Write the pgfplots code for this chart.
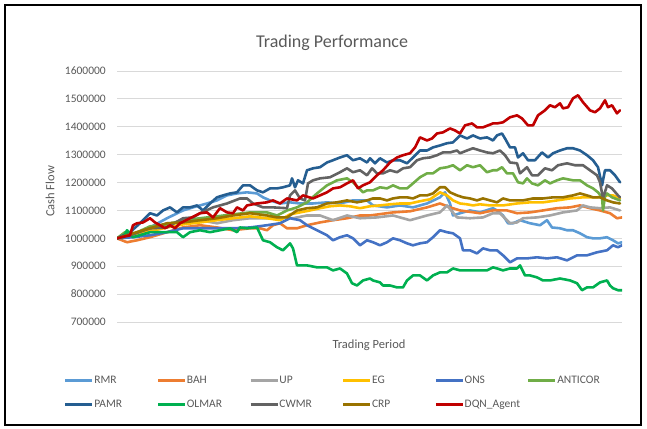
\documentclass[border=0pt]{standalone}
\usepackage{pgfplots}
\pgfplotsset{compat=1.18}
\usepackage{fontspec}
\setmainfont{Carlito}
\definecolor{txt}{HTML}{595959}
\definecolor{gridc}{HTML}{D9D9D9}
\definecolor{cRMR}{HTML}{5B9BD5}
\definecolor{cBAH}{HTML}{ED7D31}
\definecolor{cUP}{HTML}{A5A5A5}
\definecolor{cEG}{HTML}{FFC000}
\definecolor{cONS}{HTML}{4472C4}
\definecolor{cANTICOR}{HTML}{70AD47}
\definecolor{cPAMR}{HTML}{255E91}
\definecolor{cOLMAR}{HTML}{00B050}
\definecolor{cCWMR}{HTML}{636363}
\definecolor{cCRP}{HTML}{997300}
\definecolor{cDQN}{HTML}{C00000}
\newcommand{\lt}[1]{\makebox[62pt][l]{#1}}
\begin{document}
\begin{tikzpicture}[x=1pt,y=1pt]
\useasboundingbox (0,0) rectangle (647,428);
\draw[black, line width=1.3pt] (5,3) rectangle (641,423);
\begin{axis}[
  at={(117pt,106pt)}, anchor=south west,
  scale only axis, width=505pt, height=251pt,
  xmin=0, xmax=505, ymin=700000, ymax=1600000,
  xtick=\empty,
  ytick distance=100000,
  scaled y ticks=false,
  /pgf/number format/.cd, fixed, 1000 sep={}, assume math mode=true,
  /pgfplots/.cd,
  axis line style={draw=none},
  major tick length=0pt,
  ymajorgrids, grid style={draw=gridc, line width=0.8pt},
  yticklabel style={font=\fontsize{11.5}{13}\selectfont, text=txt, inner sep=0pt, xshift=-11pt},
  title={Trading Performance},
  title style={at={(axis description cs:0.426,1.09)}, anchor=center, font=\fontsize{18}{21}\selectfont, text=txt},
  xlabel={Trading Period},
  xlabel style={at={(axis description cs:0.499,-0.0916)}, anchor=center, font=\fontsize{12.5}{14}\selectfont, text=txt},
  ylabel={Cash Flow},
  ylabel style={at={(axis description cs:-0.1327,0.52)}, anchor=center, rotate=0, font=\fontsize{12.5}{14}\selectfont, text=txt},
  every axis plot/.append style={line width=2.6pt, line join=round, line cap=round},
  legend columns=6,
  legend image code/.code={\draw[#1, line width=2.6pt, line cap=butt] (0pt,0pt) -- (27pt,0pt);},
  legend style={at={(axis description cs:-0.105,-0.210)}, anchor=north west, draw=none, fill=none,
    inner sep=0pt, column sep=0pt, row sep=12.5pt,
    font=\fontsize{11.5}{13}\selectfont, text=txt,
    nodes={text height=8pt, text depth=2.5pt, inner sep=0.5pt}},
]
% RMR
\addplot[cRMR] coordinates {(0,1000000)(16,1007000)(33,1039000)(50,1072000)(66,1100000)(76,1111000)(90,1125000)(100,1136000)(110,1154000)(120,1161000)(130,1165000)(140,1161000)(146,1147000)(153,1136000)(163,1125000)(173,1129000)(183,1125000)(196,1125000)(210,1129000)(223,1125000)(236,1136000)(250,1136000)(256,1118000)(270,1111000)(283,1118000)(296,1111000)(310,1125000)(323,1147000)(328,1165000)(333,1125000)(336,1082000)(343,1090000)(353,1100000)(363,1093000)(376,1108000)(380,1100000)(386,1082000)(391,1054000)(396,1054000)(403,1065000)(413,1054000)(423,1047000)(430,1065000)(435,1039000)(443,1036000)(450,1029000)(456,1029000)(463,1018000)(470,1004000)(476,1000000)(483,1000000)(490,1004000)(496,993000)(501,982000)(505,986000)};
\addlegendentry{\lt{RMR}}
% BAH
\addplot[cBAH] coordinates {(0,1000000)(10,986000)(20,993000)(33,1004000)(50,1022000)(66,1039000)(83,1047000)(100,1039000)(116,1029000)(133,1036000)(143,1036000)(150,1029000)(156,1047000)(163,1054000)(170,1036000)(180,1036000)(190,1047000)(203,1057000)(216,1065000)(230,1072000)(243,1082000)(253,1082000)(276,1093000)(293,1097000)(310,1111000)(323,1125000)(333,1111000)(343,1100000)(363,1090000)(376,1100000)(390,1100000)(400,1090000)(413,1093000)(426,1100000)(440,1108000)(453,1111000)(463,1118000)(473,1108000)(483,1100000)(493,1090000)(500,1072000)(505,1075000)};
\addlegendentry{\lt{BAH}}
% UP
\addplot[cUP] coordinates {(0,1000000)(16,1007000)(33,1029000)(50,1054000)(66,1057000)(83,1065000)(100,1054000)(116,1065000)(133,1072000)(150,1072000)(166,1075000)(176,1072000)(190,1082000)(203,1082000)(216,1065000)(230,1082000)(243,1072000)(260,1075000)(276,1082000)(293,1065000)(310,1082000)(323,1093000)(330,1118000)(340,1075000)(353,1072000)(366,1075000)(376,1090000)(383,1090000)(393,1054000)(400,1057000)(406,1072000)(420,1075000)(433,1082000)(446,1093000)(460,1100000)(466,1118000)(473,1111000)(483,1108000)(493,1111000)(503,1100000)};
\addlegendentry{\lt{UP}}
% EG
\addplot[cEG] coordinates {(0,1000000)(16,1011000)(33,1025000)(50,1039000)(66,1050000)(83,1057000)(100,1065000)(116,1072000)(133,1079000)(150,1072000)(163,1065000)(173,1086000)(183,1093000)(193,1100000)(203,1108000)(213,1115000)(223,1118000)(233,1115000)(243,1108000)(253,1115000)(263,1118000)(273,1122000)(283,1125000)(293,1125000)(303,1133000)(313,1140000)(323,1165000)(330,1154000)(336,1136000)(343,1125000)(350,1122000)(356,1118000)(363,1122000)(373,1118000)(386,1118000)(400,1125000)(413,1129000)(426,1129000)(440,1136000)(453,1143000)(466,1147000)(480,1147000)(490,1154000)(496,1154000)(503,1143000)};
\addlegendentry{\lt{EG}}
% ONS
\addplot[cONS] coordinates {(0,1000000)(16,1004000)(33,1011000)(50,1022000)(66,1036000)(83,1036000)(100,1036000)(116,1036000)(133,1039000)(150,1047000)(163,1054000)(173,1072000)(183,1065000)(190,1047000)(200,1029000)(210,1011000)(216,993000)(223,1004000)(230,1011000)(236,1000000)(243,975000)(250,993000)(256,986000)(263,975000)(270,986000)(276,1000000)(283,993000)(290,982000)(296,975000)(303,982000)(310,986000)(316,1004000)(323,1029000)(330,1022000)(336,1018000)(343,1000000)(346,957000)(353,957000)(360,946000)(366,964000)(373,957000)(380,957000)(386,939000)(393,914000)(400,928000)(410,928000)(420,932000)(430,928000)(440,932000)(450,921000)(460,939000)(470,939000)(480,950000)(490,957000)(496,975000)(501,968000)(505,975000)};
\addlegendentry{\lt{ONS}}
% ANTICOR
\addplot[cANTICOR] coordinates {(0,1000000)(8,1022000)(18,1018000)(33,1043000)(50,1050000)(66,1065000)(83,1072000)(100,1079000)(116,1086000)(133,1093000)(150,1093000)(160,1082000)(170,1100000)(180,1111000)(190,1129000)(200,1161000)(210,1190000)(220,1208000)(230,1215000)(236,1201000)(246,1165000)(250,1172000)(256,1172000)(263,1183000)(270,1179000)(276,1190000)(283,1179000)(290,1179000)(296,1197000)(303,1219000)(310,1233000)(316,1233000)(323,1251000)(330,1255000)(336,1262000)(343,1244000)(350,1262000)(356,1255000)(363,1262000)(370,1237000)(376,1244000)(380,1244000)(385,1255000)(390,1233000)(396,1233000)(401,1201000)(406,1197000)(410,1215000)(415,1197000)(421,1190000)(428,1208000)(433,1197000)(440,1208000)(446,1215000)(456,1208000)(463,1208000)(470,1190000)(476,1179000)(481,1165000)(485,1147000)(486,1100000)(488,1150000)(490,1161000)(495,1147000)(503,1136000)};
\addlegendentry{\lt{ANTICOR}}
% PAMR
\addplot[cPAMR] coordinates {(0,1000000)(13,1022000)(23,1054000)(33,1090000)(40,1082000)(46,1100000)(53,1111000)(60,1093000)(66,1111000)(73,1111000)(80,1118000)(86,1100000)(93,1125000)(100,1147000)(106,1154000)(113,1161000)(120,1165000)(126,1190000)(133,1190000)(140,1172000)(146,1165000)(153,1179000)(160,1179000)(166,1183000)(173,1190000)(175,1215000)(178,1183000)(181,1208000)(186,1197000)(190,1244000)(196,1251000)(203,1255000)(210,1272000)(216,1280000)(223,1290000)(230,1298000)(236,1280000)(243,1287000)(250,1272000)(253,1287000)(258,1269000)(263,1287000)(270,1272000)(276,1280000)(283,1280000)(290,1269000)(296,1290000)(303,1315000)(310,1315000)(316,1326000)(323,1333000)(330,1341000)(336,1344000)(343,1369000)(350,1358000)(356,1369000)(363,1358000)(370,1362000)(376,1351000)(380,1369000)(385,1376000)(388,1358000)(393,1326000)(398,1326000)(401,1290000)(406,1305000)(411,1280000)(418,1280000)(425,1308000)(431,1290000)(436,1305000)(443,1315000)(450,1323000)(456,1323000)(463,1315000)(470,1298000)(476,1280000)(481,1255000)(485,1190000)(488,1244000)(493,1244000)(498,1226000)(503,1201000)};
\addlegendentry{\lt{PAMR}}
% OLMAR
\addplot[cOLMAR] coordinates {(0,1000000)(7,1007000)(10,1029000)(16,1004000)(33,1022000)(50,1022000)(60,1022000)(66,1004000)(73,1022000)(83,1029000)(93,1022000)(103,1029000)(113,1036000)(120,1022000)(123,1039000)(130,1036000)(140,1039000)(146,993000)(153,986000)(160,968000)(166,957000)(173,982000)(176,964000)(180,903000)(190,903000)(200,896000)(210,896000)(216,885000)(223,892000)(230,874000)(235,839000)(240,831000)(246,849000)(253,856000)(256,849000)(263,842000)(266,831000)(273,831000)(280,824000)(286,824000)(290,849000)(296,867000)(303,867000)(310,849000)(316,867000)(323,878000)(330,878000)(336,892000)(343,885000)(350,885000)(356,885000)(363,885000)(370,885000)(376,896000)(380,892000)(386,885000)(393,892000)(400,892000)(403,903000)(408,867000)(413,867000)(420,860000)(426,849000)(433,849000)(443,856000)(453,849000)(460,839000)(465,814000)(470,824000)(476,824000)(483,842000)(490,849000)(493,831000)(496,821000)(501,814000)(505,814000)};
\addlegendentry{\lt{OLMAR}}
% CWMR
\addplot[cCWMR] coordinates {(0,1000000)(13,1011000)(33,1036000)(50,1039000)(66,1072000)(76,1075000)(83,1090000)(96,1111000)(110,1125000)(123,1143000)(130,1143000)(136,1125000)(146,1111000)(156,1111000)(170,1108000)(173,1154000)(178,1172000)(183,1143000)(188,1136000)(191,1197000)(196,1208000)(203,1215000)(213,1219000)(223,1237000)(230,1251000)(236,1237000)(243,1244000)(250,1226000)(255,1251000)(260,1233000)(266,1233000)(273,1244000)(280,1237000)(286,1251000)(293,1255000)(300,1280000)(306,1287000)(313,1290000)(320,1298000)(326,1308000)(333,1308000)(340,1315000)(343,1305000)(350,1315000)(356,1323000)(363,1315000)(370,1308000)(376,1305000)(383,1315000)(388,1298000)(393,1272000)(400,1269000)(403,1233000)(410,1255000)(415,1226000)(421,1226000)(428,1251000)(435,1244000)(441,1262000)(450,1269000)(458,1262000)(466,1262000)(473,1244000)(480,1226000)(483,1201000)(486,1143000)(490,1190000)(495,1179000)(501,1154000)(503,1147000)};
\addlegendentry{\lt{CWMR}}
% CRP
\addplot[cCRP] coordinates {(0,1000000)(16,1018000)(33,1036000)(50,1054000)(66,1057000)(83,1065000)(100,1072000)(116,1082000)(133,1090000)(150,1082000)(160,1075000)(170,1075000)(180,1100000)(190,1108000)(200,1111000)(210,1125000)(220,1129000)(230,1136000)(240,1129000)(250,1136000)(256,1143000)(263,1143000)(270,1136000)(276,1143000)(283,1147000)(290,1147000)(296,1143000)(303,1154000)(310,1154000)(316,1161000)(323,1183000)(328,1183000)(333,1165000)(340,1154000)(346,1147000)(353,1143000)(360,1136000)(366,1143000)(373,1136000)(380,1129000)(386,1143000)(393,1136000)(400,1136000)(406,1136000)(416,1143000)(426,1143000)(436,1147000)(446,1147000)(456,1154000)(463,1161000)(470,1154000)(476,1147000)(483,1147000)(490,1136000)(496,1129000)(503,1125000)};
\addlegendentry{\lt{CRP}}
% DQN_Agent
\addplot[cDQN] coordinates {(0,1000000)(8,1007000)(13,1011000)(16,1047000)(20,1054000)(26,1057000)(33,1072000)(38,1057000)(43,1047000)(48,1036000)(53,1047000)(58,1036000)(63,1054000)(73,1072000)(83,1090000)(90,1093000)(96,1075000)(103,1108000)(110,1093000)(116,1090000)(120,1111000)(126,1100000)(130,1118000)(140,1125000)(150,1129000)(156,1136000)(163,1125000)(170,1143000)(180,1136000)(186,1154000)(196,1143000)(203,1154000)(210,1165000)(216,1179000)(223,1183000)(230,1197000)(236,1208000)(241,1179000)(246,1190000)(253,1201000)(260,1226000)(266,1244000)(273,1272000)(280,1290000)(286,1298000)(293,1305000)(298,1326000)(303,1362000)(310,1351000)(315,1358000)(320,1376000)(326,1380000)(333,1394000)(338,1387000)(343,1376000)(348,1405000)(355,1412000)(360,1398000)(366,1398000)(371,1405000)(376,1412000)(380,1412000)(386,1416000)(393,1434000)(400,1441000)(405,1430000)(411,1405000)(416,1405000)(421,1441000)(428,1459000)(433,1477000)(438,1470000)(443,1484000)(446,1466000)(451,1470000)(456,1502000)(461,1513000)(466,1488000)(473,1459000)(478,1452000)(483,1466000)(488,1495000)(491,1470000)(495,1477000)(500,1448000)(503,1459000)};
\addlegendentry{\lt{DQN\_Agent}}
\end{axis}
\end{tikzpicture}
\end{document}
